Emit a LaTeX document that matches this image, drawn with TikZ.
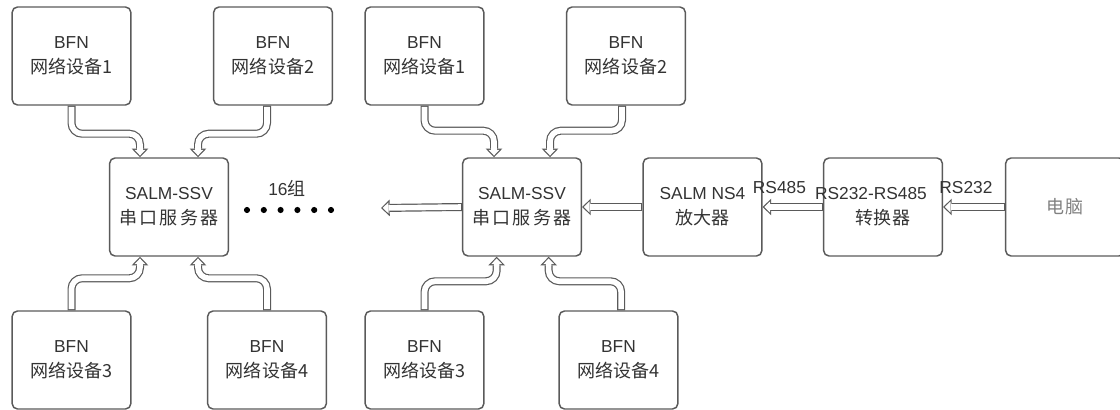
\documentclass[tikz,border=0pt]{standalone}
\usepackage{fontspec}
\setmainfont{Liberation Sans}
\newfontfamily\cjk{Noto Sans CJK SC}[Scale=1.04]
\newfontfamily\cjkwide{Noto Sans CJK SC}[Scale=1.04, LetterSpace=12]
\usetikzlibrary{arrows.meta}
\definecolor{edge}{HTML}{5A5A5A}
\definecolor{ink}{HTML}{333333}
\tikzset{
  box/.style={draw=edge, line width=1.1pt, rounded corners=4pt, minimum width=89pt, minimum height=73.5pt, align=center, text=ink, font=\fontsize{13}{19}\selectfont},
  flow/.style={draw=white, line width=4.2pt, rounded corners=8pt, shorten >=1.3pt, shorten <=0.8pt,
    -{Triangle[length=4.3pt,width=8.3pt,line width=0pt]},
    preaction={draw=edge, line width=6pt, shorten >=0pt, shorten <=0pt, -{Triangle[length=6.5pt,width=12.5pt,line width=0pt]}}},
  lbl/.style={text=ink, font=\fontsize{13}{15}\selectfont, inner sep=1pt}
}
\begin{document}
\begin{tikzpicture}[x=0.75pt, y=-0.75pt]
\useasboundingbox (0,0) rectangle (1120,410);

\node[box] (b1) at (71.5,56) {BFN\\{\cjk 网络设备1}};
\node[box] (b2) at (273,56) {BFN\\{\cjk 网络设备2}};
\node[box] (s1) at (169,207) {SALM-SSV\\{\cjkwide 串口服务器}};
\node[box] (b3) at (71.5,360) {BFN\\{\cjk 网络设备3}};
\node[box] (b4) at (267,360) {BFN\\{\cjk 网络设备4}};

\node[box] (m1) at (424.5,56) {BFN\\{\cjk 网络设备1}};
\node[box] (m2) at (626,56) {BFN\\{\cjk 网络设备2}};
\node[box] (s2) at (522,207) {SALM-SSV\\{\cjkwide 串口服务器}};
\node[box] (m3) at (424.5,360) {BFN\\{\cjk 网络设备3}};
\node[box] (m4) at (618.5,360) {BFN\\{\cjk 网络设备4}};

\node[box] (amp) at (702.5,207) {SALM NS4\\{\cjk 放大器}};
\node[box] (conv) at (883,207) {\hspace*{-18pt}RS232-RS485\\{\cjk 转换器}};
\node[box, text=gray] (pc) at (1065,207) {\cjk 电脑};

\node[lbl] (grp) at (287,188) {16{\cjk 组}};
\foreach \i in {0,...,5}
  \fill (247+16.8*\i,210) circle (2.3pt);

\draw[flow] (b1.south) -- ++(0,28) -| ([xshift=-21.75pt]s1.north);
\draw[flow] ([xshift=-4.5pt]b2.south) -- ++(0,28) -| ([xshift=21.75pt]s1.north);
\draw[flow] (b3.north) -- ++(0,-32) -| ([xshift=-21.75pt]s1.south);
\draw[flow] (b4.north) -- ++(0,-32) -| ([xshift=21.75pt]s1.south);

\draw[flow] (m1.south) -- ++(0,25) -| ([xshift=-21pt]s2.north);
\draw[flow] ([xshift=-3pt]m2.south) -- ++(0,25) -| ([xshift=21pt]s2.north);
\draw[flow] (m3.north) -- ++(0,-29) -| ([xshift=-19pt]s2.south);
\draw[flow] ([xshift=2pt]m4.north) -- ++(0,-29) -| ([xshift=20pt]s2.south);

\coordinate (out) at (381,208);
\draw[flow] (s2.west) -- (out);
\draw[flow] (amp.west) -- (s2.east);
\draw[flow] (conv.west) -- node[lbl, pos=0.72, above=7pt] (r485) {RS485} (amp.east);
\draw[flow] (pc.west) -- node[lbl, pos=0.63, above=7pt] (r232) {RS232} (conv.east);
\end{tikzpicture}
\end{document}
